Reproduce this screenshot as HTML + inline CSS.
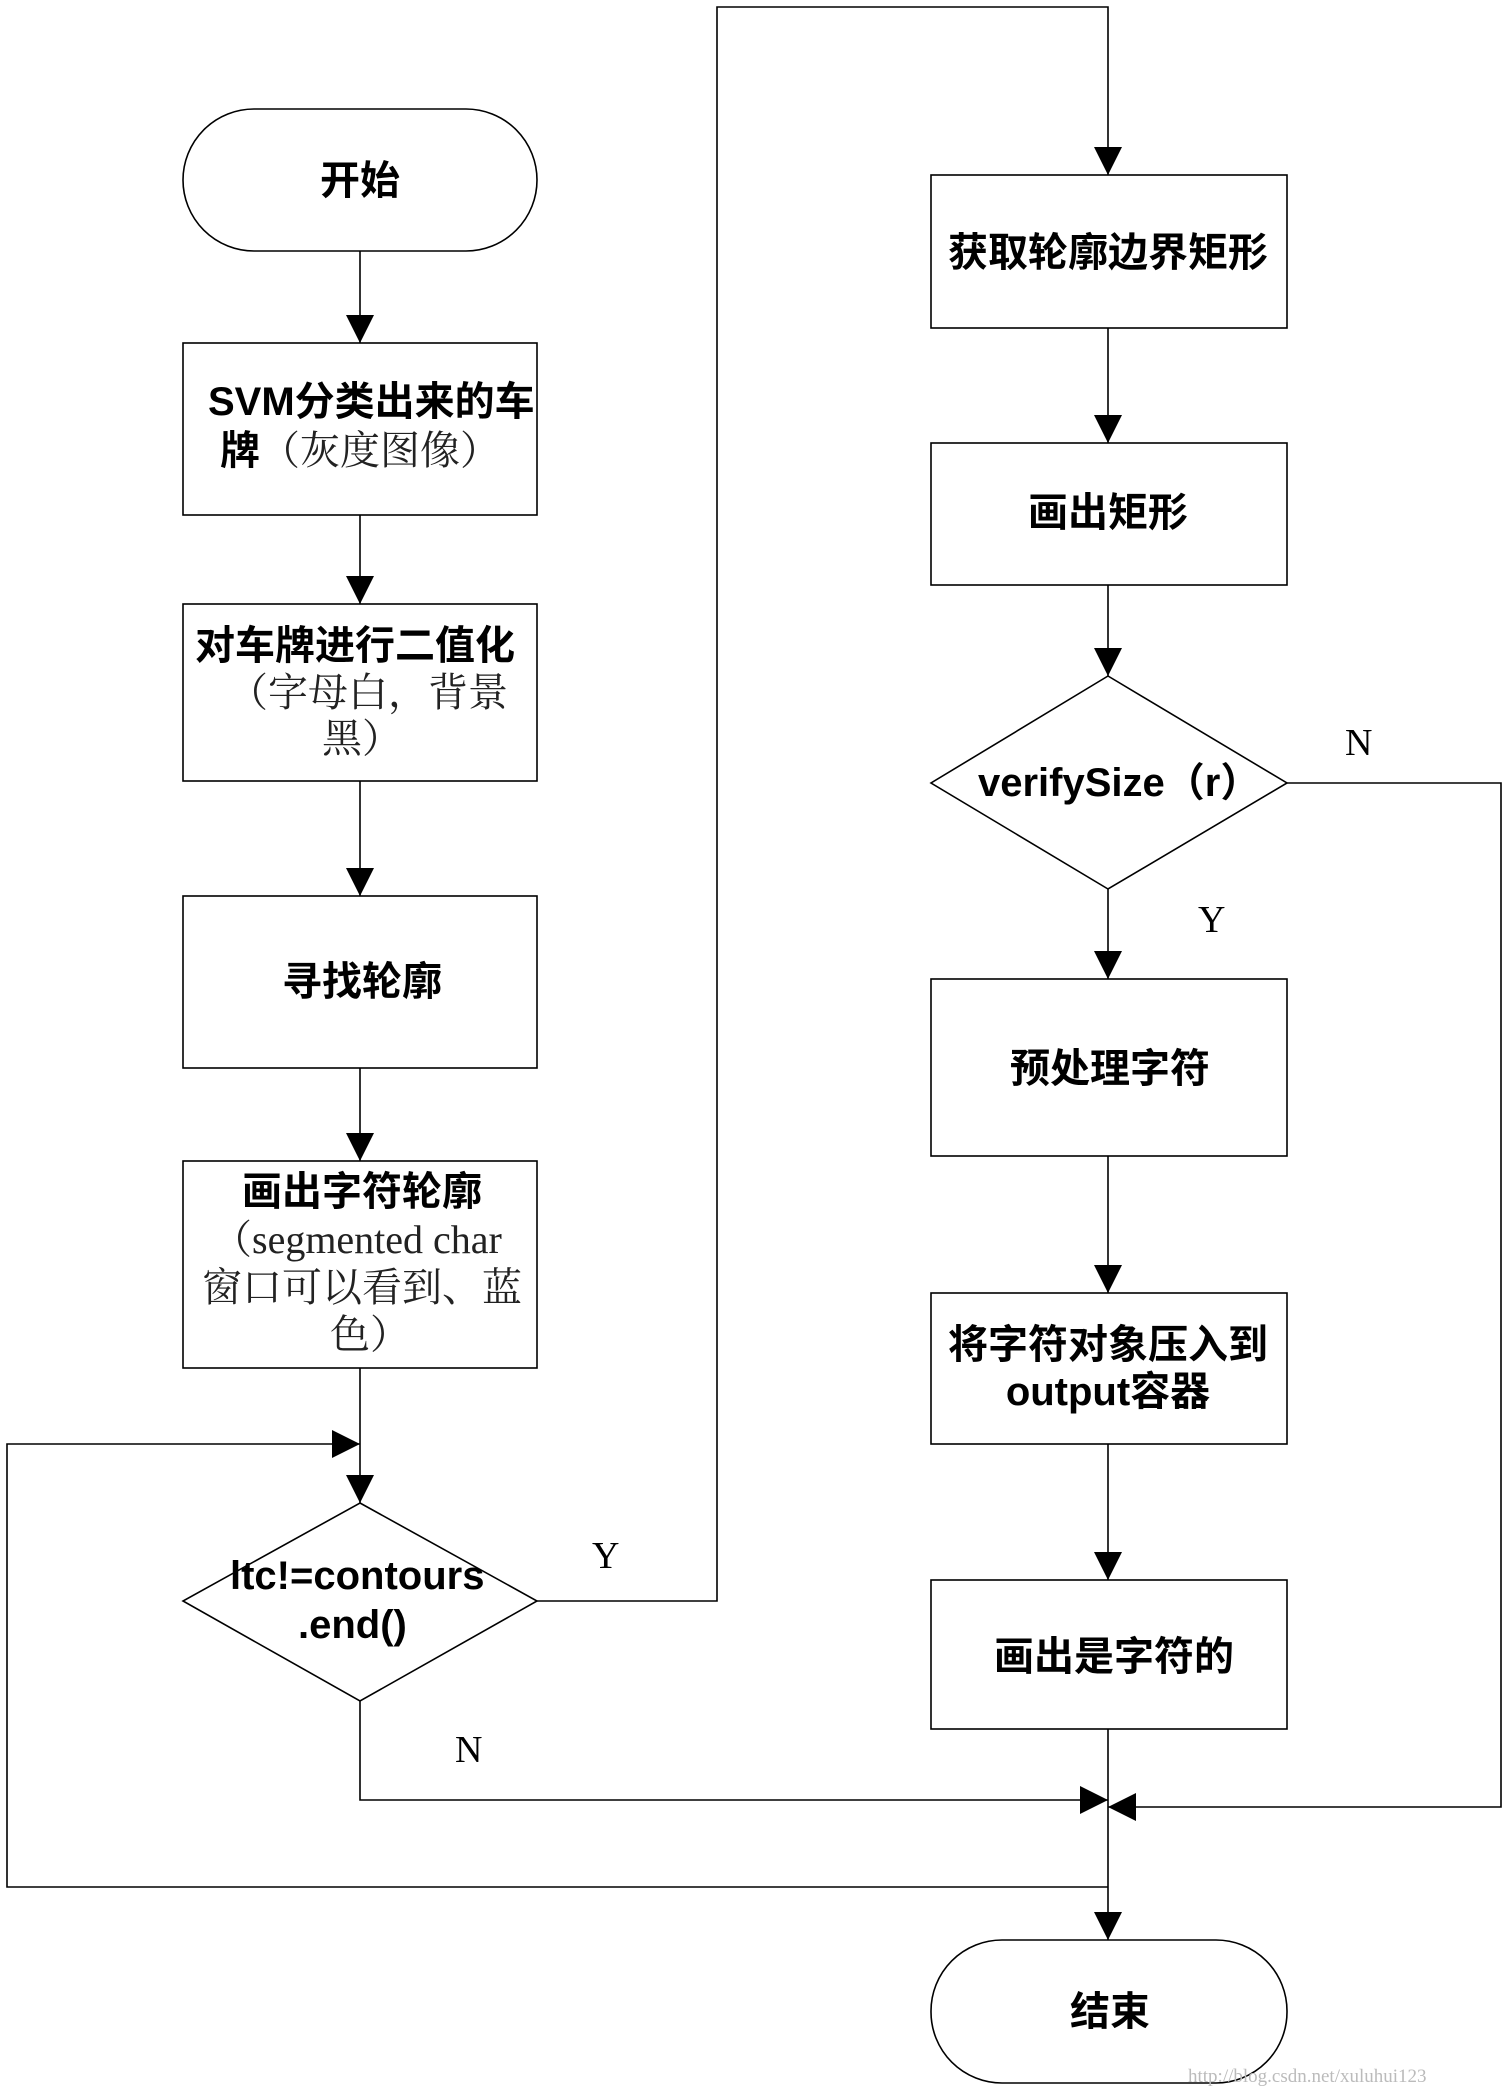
<!DOCTYPE html>
<html><head><meta charset="utf-8"><style>
html,body{margin:0;padding:0;background:#fff;}
svg{display:block;}
.b{font-family:"Liberation Sans","Noto Sans CJK SC",sans-serif;font-weight:bold;font-size:40px;fill:#000;}
.s{font-family:"Liberation Serif","Noto Serif CJK SC",serif;font-size:40px;fill:#222;}
.l{font-family:"Liberation Serif",serif;font-size:38px;fill:#000;}
</style></head><body>
<svg width="1508" height="2088" viewBox="0 0 1508 2088" xmlns="http://www.w3.org/2000/svg">
<defs>
<marker id="a" viewBox="0 0 10 10" refX="10" refY="5" markerWidth="28" markerHeight="28" markerUnits="userSpaceOnUse" orient="auto"><path d="M0,0 L10,5 L0,10 z" fill="#000"/></marker>
</defs>
<g fill="none" stroke="#000" stroke-width="1.6">
<rect x="183" y="109" width="354" height="142" rx="71"/>
<rect x="183" y="343" width="354" height="172"/>
<rect x="183" y="604" width="354" height="177"/>
<rect x="183" y="896" width="354" height="172"/>
<rect x="183" y="1161" width="354" height="207"/>
<polygon points="360,1503 537,1601 360,1701 183,1601"/>
<rect x="931" y="175" width="356" height="153"/>
<rect x="931" y="443" width="356" height="142"/>
<polygon points="1108,676 1287,783 1108,889 931,783"/>
<rect x="931" y="979" width="356" height="177"/>
<rect x="931" y="1293" width="356" height="151"/>
<rect x="931" y="1580" width="356" height="149"/>
<rect x="931" y="1940" width="356" height="143" rx="71"/>
<line x1="360" y1="251" x2="360" y2="343" marker-end="url(#a)"/>
<line x1="360" y1="515" x2="360" y2="604" marker-end="url(#a)"/>
<line x1="360" y1="781" x2="360" y2="896" marker-end="url(#a)"/>
<line x1="360" y1="1068" x2="360" y2="1161" marker-end="url(#a)"/>
<line x1="360" y1="1368" x2="360" y2="1503" marker-end="url(#a)"/>
<polyline points="1108,1887 7,1887 7,1444 360,1444" marker-end="url(#a)"/>
<polyline points="537,1601 717,1601 717,7 1108,7 1108,175" marker-end="url(#a)"/>
<line x1="1108" y1="328" x2="1108" y2="443" marker-end="url(#a)"/>
<line x1="1108" y1="585" x2="1108" y2="676" marker-end="url(#a)"/>
<line x1="1108" y1="889" x2="1108" y2="979" marker-end="url(#a)"/>
<line x1="1108" y1="1156" x2="1108" y2="1293" marker-end="url(#a)"/>
<line x1="1108" y1="1444" x2="1108" y2="1580" marker-end="url(#a)"/>
<polyline points="1287,783 1501,783 1501,1807 1108,1807" marker-end="url(#a)"/>
<polyline points="360,1701 360,1800 1108,1800" marker-end="url(#a)"/>
<line x1="1108" y1="1729" x2="1108" y2="1940" marker-end="url(#a)"/>
</g>
<text class="b" x="360" y="194" text-anchor="middle">开始</text>
<text class="b" x="208" y="415">SVM分类出来的车</text>
<text x="220" y="464"><tspan class="b">牌</tspan><tspan class="s">（灰度图像）</tspan></text>
<text class="b" x="195" y="659">对车牌进行二值化</text>
<text class="s" x="228" y="706">（字母白，背景</text>
<text class="s" x="322" y="752">黑）</text>
<text class="b" x="362" y="995" text-anchor="middle">寻找轮廓</text>
<text class="b" x="362" y="1205" text-anchor="middle">画出字符轮廓</text>
<text class="s" x="212" y="1253">（segmented char</text>
<text class="s" x="202" y="1301">窗口可以看到、蓝</text>
<text class="s" x="330" y="1348">色）</text>
<text class="b" x="230" y="1589">ltc!=contours</text>
<text class="b" x="298" y="1638">.end()</text>
<text class="b" x="1108" y="266" text-anchor="middle">获取轮廓边界矩形</text>
<text class="b" x="1108" y="526" text-anchor="middle">画出矩形</text>
<text class="b" x="978" y="796">verifySize（r）</text>
<text class="b" x="1110" y="1082" text-anchor="middle">预处理字符</text>
<text class="b" x="1108" y="1358" text-anchor="middle">将字符对象压入到</text>
<text class="b" x="1108" y="1405" text-anchor="middle">output容器</text>
<text class="b" x="1114" y="1670" text-anchor="middle">画出是字符的</text>
<text class="b" x="1110" y="2025" text-anchor="middle">结束</text>
<text class="l" x="1345" y="755">N</text>
<text class="l" x="1198" y="932">Y</text>
<text class="l" x="592" y="1568">Y</text>
<text class="l" x="455" y="1762">N</text>
<text x="1188" y="2082" font-family="Liberation Serif,serif" font-size="19" fill="#bbb">http://blog.csdn.net/xuluhui123</text>
</svg>
</body></html>
